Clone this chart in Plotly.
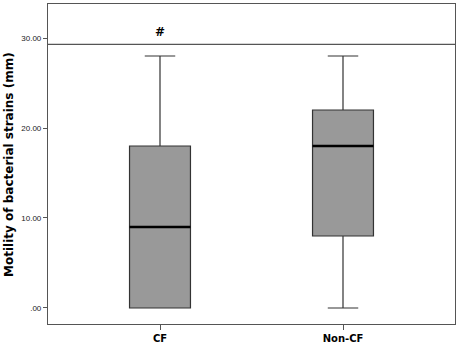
import plotly.graph_objects as go

# box summaries
groups = ["CF", "Non-CF"]
lower = [0, 0]
q1 = [0, 8]
median = [9, 18]
q3 = [18, 22]
upper = [28, 28]

sig_y = 29.3       # horizontal reference line
mark_y = 30.7      # "#" marker above CF
tick_vals = [0, 10, 20, 30]
tick_text = [".00", "10.00", "20.00", "30.00"]

box_w = 0.333
pos = list(range(len(groups)))
bold_font = "DejaVu Sans, Verdana, sans-serif"

fig = go.Figure()
for i, g in enumerate(groups):
    fig.add_trace(go.Box(
        x=[pos[i]], q1=[q1[i]], median=[median[i]], q3=[q3[i]],
        lowerfence=[lower[i]], upperfence=[upper[i]],
        width=box_w, whiskerwidth=0.5,
        fillcolor="#999999", line=dict(color="#333333", width=1.2),
        boxpoints=False, showlegend=False, hoverinfo="skip"))
    # thick black median bar
    fig.add_trace(go.Scatter(
        x=[pos[i] - box_w / 2, pos[i] + box_w / 2], y=[median[i], median[i]],
        mode="lines", line=dict(color="black", width=2.5),
        showlegend=False, hoverinfo="skip"))

fig.add_shape(type="line", xref="paper", x0=0, x1=1, y0=sig_y, y1=sig_y,
              line=dict(color="#555555", width=1.2))
fig.add_annotation(x=pos[0], y=mark_y, text="<b>#</b>", showarrow=False,
                   font=dict(size=12, color="black", family=bold_font))

fig.add_annotation(xref="paper", yref="paper", x=-0.096, y=0.5,
                   xanchor="center", yanchor="middle",
                   text="<b>Motility of bacterial strains (mm)</b>",
                   textangle=-90, showarrow=False,
                   font=dict(size=12, color="black", family=bold_font))

fig.update_layout(
    width=459, height=348,
    margin=dict(l=48, r=4, t=4, b=24),
    paper_bgcolor="white", plot_bgcolor="white",
    font=dict(family="Liberation Sans, Arial, sans-serif"),
)
fig.update_xaxes(range=[-0.612, 1.612], tickvals=pos, ticktext=["<b>%s</b>" % g for g in groups],
                 showgrid=False, zeroline=False, showline=True, mirror=True,
                 linecolor="#555555", linewidth=1.2, ticks="outside", ticklen=5,
                 tickcolor="#555555", tickfont=dict(size=10, color="black", family=bold_font))
fig.update_yaxes(range=[-1.78, 33.78], tickvals=tick_vals, ticktext=tick_text,
                 showgrid=False, zeroline=False, showline=True, mirror=True,
                 linecolor="#555555", linewidth=1.2, ticks="outside", ticklen=4,
                 tickcolor="#555555", tickfont=dict(size=8, color="#222222"))

fig.write_html("out.html", config={"displayModeBar": False},
               post_script="document.body.style.margin='0';")
